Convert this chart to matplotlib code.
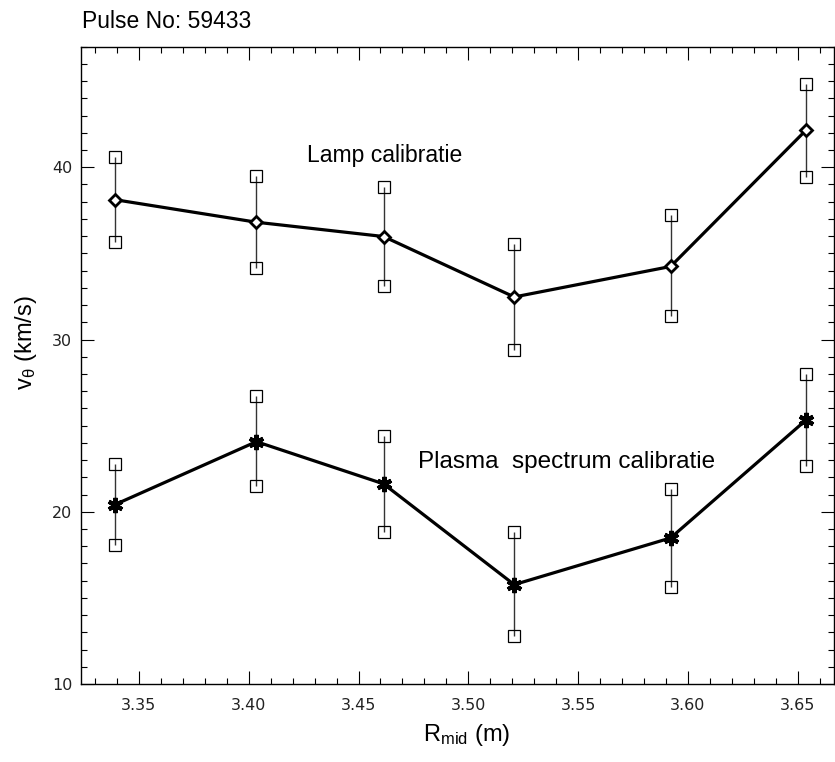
"""
Poloidal rotation profile v_theta(R_mid) for pulse 59433,
lamp calibration vs. plasma spectrum calibration.
"""

import matplotlib
matplotlib.use("Agg")
import matplotlib.pyplot as plt
from matplotlib.ticker import MultipleLocator

# ---------------------------------------------------------------------------
# Data
# ---------------------------------------------------------------------------

r_mid = [3.339, 3.4035, 3.4614, 3.5209, 3.5921, 3.6538]       # m

v_lamp = [38.12, 36.81, 35.98, 32.47, 34.24, 42.16]          # km/s
lamp_hi = [40.57, 39.51, 38.84, 35.52, 37.20, 44.86]
lamp_lo = [35.69, 34.15, 33.13, 29.38, 31.37, 39.42]

v_plasma = [20.41, 24.07, 21.62, 15.77, 18.48, 25.33]        # km/s
plasma_hi = [22.76, 26.72, 24.40, 18.80, 21.31, 27.99]
plasma_lo = [18.05, 21.47, 18.80, 12.78, 15.64, 22.66]

pulse_no = "59433"
label_lamp = "Lamp calibratie"
label_plasma = "Plasma  spectrum calibratie"

# ---------------------------------------------------------------------------
# Style
# ---------------------------------------------------------------------------

plt.rcParams["font.family"] = ["DejaVu Sans"]
plt.rcParams["mathtext.fontset"] = "custom"
plt.rcParams["mathtext.rm"] = "Liberation Sans"
plt.rcParams["mathtext.it"] = "Liberation Sans:italic"
plt.rcParams["mathtext.sf"] = "Liberation Sans"
TXT = ["Liberation Sans", "DejaVu Sans"]

W, H = 835, 762
fig = plt.figure(figsize=(W / 100, H / 100), dpi=100)
ax = fig.add_axes([80.7 / W, 1 - 684 / H, (834 - 80.7) / W, (684 - 46.7) / H])


def draw_series(ax, x, v, lo, hi, marker, ms, mew):
    ax.vlines(x, lo, hi, color="#333333", lw=1.0, zorder=2)
    ax.plot(x, hi, ls="none", marker="s", ms=8, mfc="none", mec="black",
            mew=0.9, zorder=3)
    ax.plot(x, lo, ls="none", marker="s", ms=8, mfc="none", mec="black",
            mew=0.9, zorder=3)
    ax.plot(x, v, color="black", lw=2.3, marker=marker, ms=ms,
            mfc="white", mec="black", mew=mew, zorder=4)


draw_series(ax, r_mid, v_lamp, lamp_lo, lamp_hi, "D", 6.5, 2.0)
draw_series(ax, r_mid, v_plasma, plasma_lo, plasma_hi, (6, 2, 0), 11, 3.0)

ax.text(3.4264, 40.32, label_lamp, fontsize=16.5, family=TXT, va="baseline")
ax.text(3.477, 22.53, label_plasma, fontsize=17.5, family=TXT, va="baseline")

ax.set_xlim(3.3235, 3.6665)
ax.set_ylim(10, 47)
ax.xaxis.set_major_locator(MultipleLocator(0.05))
ax.xaxis.set_minor_locator(MultipleLocator(0.01))
ax.yaxis.set_major_locator(MultipleLocator(10))
ax.yaxis.set_minor_locator(MultipleLocator(1))
ax.xaxis.set_major_formatter(matplotlib.ticker.FormatStrFormatter("%.2f"))

ax.tick_params(which="both", direction="in", top=True, right=True,
               width=0.8, colors="black", labelcolor="#222222", labelsize=11.5)
ax.tick_params(which="major", length=9.5)
ax.tick_params(which="minor", length=4.5)
ax.tick_params(axis="x", pad=10)
ax.tick_params(axis="y", pad=6)
for s in ax.spines.values():
    s.set_linewidth(1.0)

fig.text(81.7 / W, 1 - 28.3 / H, f"Pulse No: {pulse_no}", fontsize=16.5,
         family=TXT, va="baseline", ha="left")
fig.text(467 / W, 1 - 741 / H, r"R$_{\mathrm{mid}}$ (m)", fontsize=17,
         family=TXT, va="baseline", ha="center")
fig.text(26 / W, 1 - 343 / H, r"v$_{\mathrm{θ}}$ (km/s)", fontsize=17,
         family=TXT, va="center", ha="center", rotation=90)

fig.savefig("out.png", dpi=100)
